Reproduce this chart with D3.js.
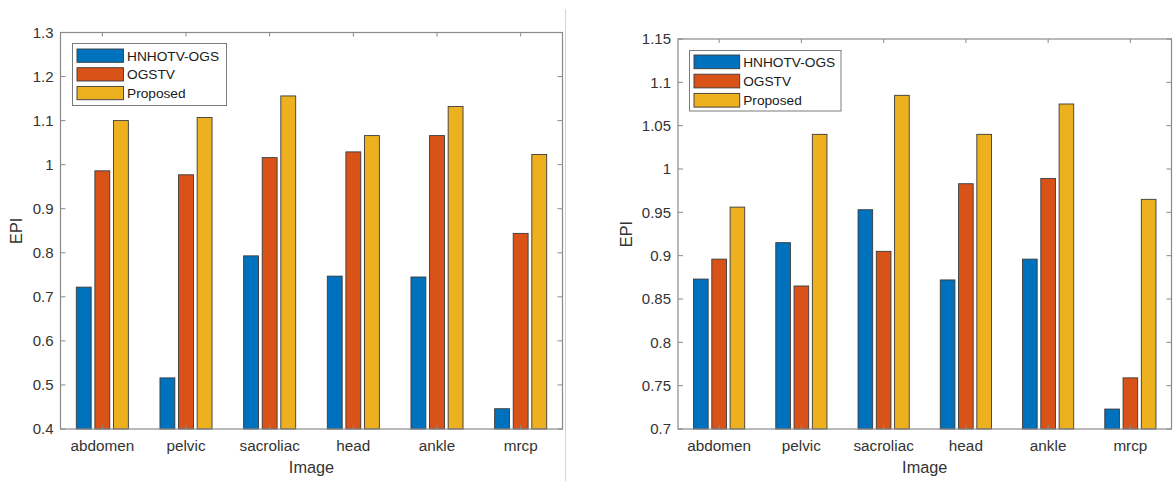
<!DOCTYPE html>
<html>
<head>
<meta charset="utf-8">
<script src="https://cdn.jsdelivr.net/npm/d3@7"></script>
<style>
  html, body { margin: 0; padding: 0; background: #fff; }
  svg { display: block; font-family: "Liberation Sans", Arial, Helvetica, sans-serif; }
</style>
</head>
<body>
<svg id="chart" width="1173" height="481"></svg>
<script>
// ---------- data ----------
const categories = ["abdomen", "pelvic", "sacroliac", "head", "ankle", "mrcp"];
const seriesNames = ["HNHOTV-OGS", "OGSTV", "Proposed"];
const seriesColors = ["#0072BD", "#D95319", "#EDB120"];

// left panel
const leftHNHOTV = [0.722, 0.516, 0.793, 0.747, 0.745, 0.446];
const leftOGSTV = [0.986, 0.977, 1.016, 1.029, 1.066, 0.844];
const leftProposed = [1.100, 1.107, 1.156, 1.066, 1.132, 1.023];
const leftTicks = [0.4, 0.5, 0.6, 0.7, 0.8, 0.9, 1.0, 1.1, 1.2, 1.3];

// right panel
const rightHNHOTV = [0.873, 0.915, 0.953, 0.872, 0.896, 0.723];
const rightOGSTV = [0.896, 0.865, 0.905, 0.983, 0.989, 0.759];
const rightProposed = [0.956, 1.040, 1.085, 1.040, 1.075, 0.965];
const rightTicks = [0.7, 0.75, 0.8, 0.85, 0.9, 0.95, 1.0, 1.05, 1.1, 1.15];

const yLabel = "EPI";
const xLabel = "Image";

// ---------- drawing ----------
const svg = d3.select("#chart");

// separator line between the two figures
svg.append("line")
  .attr("x1", 565.5).attr("x2", 565.5)
  .attr("y1", 9).attr("y2", 481)
  .attr("stroke", "#d4d4d4").attr("stroke-width", 1);

function drawPanel(cfg) {
  const { left, right, top, bottom, series, ticks, legend } = cfg;
  const g = svg.append("g");
  const x = d3.scaleLinear().domain([0.5, categories.length + 0.5]).range([left, right]);
  const y = d3.scaleLinear().domain([ticks[0], ticks[ticks.length - 1]]).range([bottom, top]);

  const nS = series.length;
  const groupW = Math.min(0.8, nS / (nS + 1.5));
  const step = groupW / nS;
  const barW = 0.8 * step;

  // bars
  series.forEach((vals, j) => {
    g.selectAll(null)
      .data(vals)
      .enter().append("rect")
      .attr("x", (d, i) => x(i + 1 + (j - (nS - 1) / 2) * step - barW / 2))
      .attr("width", x(barW) - x(0))
      .attr("y", d => y(d))
      .attr("height", d => y(ticks[0]) - y(d))
      .attr("fill", seriesColors[j])
      .attr("stroke", "#3a3a3a")
      .attr("stroke-width", 0.9);
  });

  const axisColor = "#8a8a8a";
  const textColor = "#333";

  // box
  g.append("rect")
    .attr("x", left).attr("y", top)
    .attr("width", right - left).attr("height", bottom - top)
    .attr("fill", "none").attr("stroke", axisColor).attr("stroke-width", 1.2);

  // y ticks (inside, both sides) + labels
  const fmt = v => String(+v.toFixed(2));
  ticks.forEach(t => {
    const yy = y(t);
    g.append("line").attr("x1", left).attr("x2", left + 5).attr("y1", yy).attr("y2", yy)
      .attr("stroke", axisColor);
    g.append("line").attr("x1", right - 5).attr("x2", right).attr("y1", yy).attr("y2", yy)
      .attr("stroke", axisColor);
    g.append("text").attr("x", left - 7).attr("y", yy).attr("dy", "0.36em")
      .attr("text-anchor", "end").attr("font-size", 15).attr("fill", textColor)
      .text(fmt(t));
  });

  // x ticks (inside, bottom and top) + labels
  categories.forEach((c, i) => {
    const xx = x(i + 1);
    g.append("line").attr("x1", xx).attr("x2", xx).attr("y1", bottom).attr("y2", bottom - 4)
      .attr("stroke", axisColor);
    g.append("line").attr("x1", xx).attr("x2", xx).attr("y1", top).attr("y2", top + 4)
      .attr("stroke", axisColor);
    g.append("text").attr("x", xx).attr("y", bottom + 22)
      .attr("text-anchor", "middle").attr("font-size", 15.3).attr("fill", textColor)
      .text(c);
  });

  // axis labels
  g.append("text")
    .attr("x", (left + right) / 2).attr("y", bottom + 44)
    .attr("text-anchor", "middle").attr("font-size", 16.3).attr("fill", textColor)
    .text(xLabel);
  g.append("text")
    .attr("transform", `translate(${cfg.yLabelX},${(top + bottom) / 2}) rotate(-90)`)
    .attr("text-anchor", "middle").attr("font-size", 16.3).attr("fill", textColor)
    .text(yLabel);

  // legend
  const lg = g.append("g");
  lg.append("rect")
    .attr("x", legend.x).attr("y", legend.y)
    .attr("width", legend.w).attr("height", legend.h)
    .attr("fill", "#fff").attr("stroke", "#7a7a7a").attr("stroke-width", 1);
  seriesNames.forEach((name, j) => {
    const ry = legend.y + legend.pad + j * legend.row;
    lg.append("rect")
      .attr("x", legend.x + 4.5).attr("y", ry)
      .attr("width", legend.sw).attr("height", legend.sh)
      .attr("fill", seriesColors[j]).attr("stroke", "#3a3a3a").attr("stroke-width", 0.9);
    lg.append("text")
      .attr("x", legend.x + legend.sw + 8).attr("y", ry + legend.sh / 2).attr("dy", "0.36em")
      .attr("font-size", 13.7).attr("fill", "#1a1a1a")
      .text(name);
  });
}

drawPanel({
  left: 60.5, right: 562.5, top: 32.5, bottom: 429,
  series: [leftHNHOTV, leftOGSTV, leftProposed],
  ticks: leftTicks,
  yLabelX: 22,
  legend: { x: 72.5, y: 43.5, w: 154, h: 62, pad: 5.5, row: 18.7, sw: 46.5, sh: 13.3 }
});

drawPanel({
  left: 678, right: 1171.5, top: 39, bottom: 429,
  series: [rightHNHOTV, rightOGSTV, rightProposed],
  ticks: rightTicks,
  yLabelX: 632,
  legend: { x: 689.5, y: 50.5, w: 151.5, h: 60.5, pad: 4.5, row: 19.2, sw: 45.7, sh: 13.7 }
});
</script>
</body>
</html>
